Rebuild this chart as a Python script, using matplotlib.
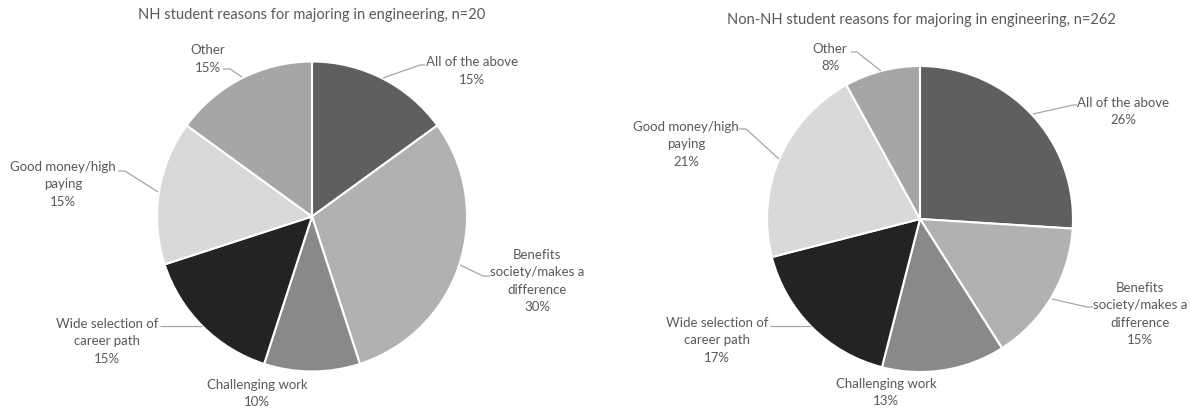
import matplotlib
matplotlib.use("Agg")
import matplotlib.pyplot as plt

# ---- data ----
categories = ["All of the above", "Benefits society/makes a difference", "Challenging work",
              "Wide selection of career path", "Good money/high paying", "Other"]
nh_values = [15, 30, 10, 15, 15, 15]
non_nh_values = [26, 15, 13, 17, 21, 8]
nh_title = "NH student reasons for majoring in engineering, n=20"
non_nh_title = "Non-NH student reasons for majoring in engineering, n=262"
label_lines = [["All of the above"], ["Benefits", "society/makes a", "difference"],
               ["Challenging work"], ["Wide selection of", "career path"],
               ["Good money/high", "paying"], ["Other"]]

# ---- styles / layout ----
colors = ["#5f5f5f", "#b1b1b1", "#898989", "#232323", "#d9d9d9", "#a6a6a6"]
TXT = "#595959"
LEAD = "#a6a6a6"
W, H = 1190, 410
FONT = ["Lato", "DejaVu Sans"]

pies = [
    dict(values=nh_values, title=nh_title, center=(312, 217.5), r=155, title_pos=(312, 15),
         labels=[(472, 62), (537, 255), (257, 385), (107, 324), (63, 167), (208, 50)],
         leaders=[[(383, 79), (420, 66), (425, 66)],
                  [(460, 266), (483, 277), (490, 277)],
                  None,
                  [(202, 327), (160, 327)],
                  [(158, 193), (125, 172), (118, 172)],
                  [(242, 78), (230, 70), (223, 70)]]),
    dict(values=non_nh_values, title=non_nh_title, center=(920, 220), r=153, title_pos=(921, 20),
         labels=[(1123, 103), (1140, 288), (886, 384), (717, 323), (686, 127), (830, 49)],
         leaders=[[(1033, 115), (1073, 106), (1077, 106)],
                  [(1052, 300), (1087, 308), (1093, 308)],
                  None,
                  [(811, 327), (770, 327)],
                  [(779, 160), (746, 130), (739, 130)],
                  [(881, 72), (857, 53), (851, 53)]]),
]

fig = plt.figure(figsize=(W / 100, H / 100), dpi=100)
ax = fig.add_axes([0, 0, 1, 1])
ax.set_xlim(0, W)
ax.set_ylim(0, H)
ax.set_aspect("equal")
ax.axis("off")

def Y(y):
    return H - y

LINE_H = 17.5
for p in pies:
    cx, cy = p["center"]
    ax.pie(p["values"], colors=colors, startangle=90, counterclock=False,
           center=(cx, Y(cy)), radius=p["r"],
           wedgeprops=dict(edgecolor="white", linewidth=1.5), frame=True)
    ax.text(p["title_pos"][0], Y(p["title_pos"][1]), p["title"], ha="center", va="center",
            fontsize=10.5, color=TXT, family=FONT)
    for i, (lx, ly) in enumerate(p["labels"]):
        lines = label_lines[i] + [f"{p['values'][i]}%"]
        for k, s in enumerate(lines):
            ax.text(lx, Y(ly + k * LINE_H), s, ha="center", va="center",
                    fontsize=9.5, color=TXT, family=FONT)
        ld = p["leaders"][i]
        if ld:
            ax.plot([q[0] for q in ld], [Y(q[1]) for q in ld], color=LEAD, lw=0.9,
                    solid_capstyle="butt", zorder=5)

ax.set_xlim(0, W)
ax.set_ylim(0, H)
ax.axis("off")
fig.savefig("out.png", dpi=100, facecolor="white")
